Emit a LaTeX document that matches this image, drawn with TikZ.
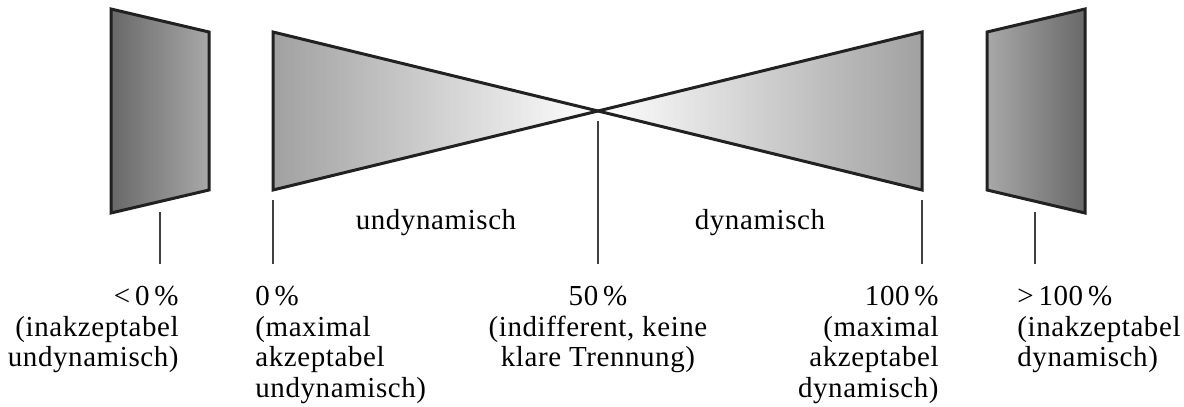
\documentclass[tikz,border=0pt]{standalone}
\usepackage{fontspec}
\setmainfont[LetterSpace=2]{Liberation Serif}

\definecolor{edgegray}{gray}{0.13}
\definecolor{tickgray}{gray}{0.25}
\definecolor{quaddark}{gray}{0.41}
\definecolor{quadlight}{gray}{0.66}
\definecolor{wedgegray}{gray}{0.63}

\tikzset{
  panel/.style={draw=edgegray, line width=1.5pt, line join=miter},
  marker/.style={draw=tickgray, line width=0.6pt},
  caption/.style={inner sep=0pt, font=\fontsize{14.5}{15.3}\selectfont},
}

\begin{document}
\begin{tikzpicture}[x=0.5pt,y=-0.5pt]
  \useasboundingbox (0,0) rectangle (1184,407);

  % outer panels
  \path[panel, left color=quaddark, right color=quadlight]
    (111,9) -- (209,32) -- (209,190) -- (111,213) -- cycle;
  \path[panel, left color=quadlight, right color=quaddark]
    (987,32) -- (1085,9) -- (1085,213) -- (987,190) -- cycle;

  % the two wedges meeting in the middle
  \path[panel, left color=wedgegray, right color=white]
    (273,32) -- (598,111) -- (273,190) -- cycle;
  \path[panel, left color=white, right color=wedgegray]
    (922,32) -- (598,111) -- (922,190) -- cycle;

  % ticks
  \coordinate (neg top) at (160,212);   \coordinate (neg end) at (160,264);
  \coordinate (zero top) at (273,200);  \coordinate (zero end) at (273,264);
  \coordinate (half top) at (598,121);  \coordinate (half end) at (598,264);
  \coordinate (full top) at (922,200);  \coordinate (full end) at (922,264);
  \coordinate (over top) at (1035,212); \coordinate (over end) at (1035,264);
  \draw[marker] (neg top) -- (neg end);
  \draw[marker] (zero top) -- (zero end);
  \draw[marker] (half top) -- (half end);
  \draw[marker] (full top) -- (full end);
  \draw[marker] (over top) -- (over end);

  \node[caption, anchor=base] (undyn) at (436,229) {undynamisch};
  \node[caption, anchor=base] (dyn) at (760,229) {dynamisch};

  \node[caption, align=right, anchor=north east] (neg) at (179,286)
    {<\,0\,\%\\(inakzeptabel\\undynamisch)};
  \node[caption, align=left, anchor=north west] (zero) at (255,286)
    {0\,\%\\(maximal\\akzeptabel\\undynamisch)};
  \node[caption, align=center, anchor=north] (half) at (598,286)
    {50\,\%\\(indifferent, keine\\klare Trennung)};
  \node[caption, align=right, anchor=north east] (full) at (939,286)
    {100\,\%\\(maximal\\akzeptabel\\dynamisch)};
  \node[caption, align=left, anchor=north west] (over) at (1017,286)
    {>\,100\,\%\\(inakzeptabel\\dynamisch)};
\end{tikzpicture}
\end{document}
